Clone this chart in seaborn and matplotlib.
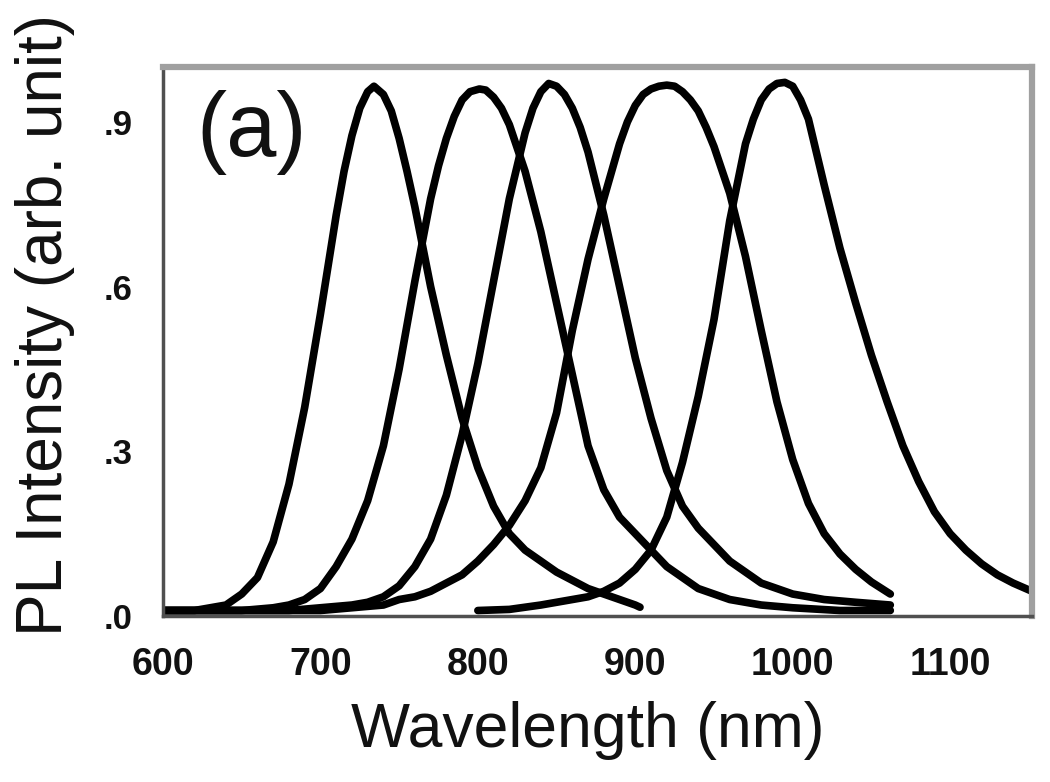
import pandas as pd
import matplotlib as mpl
import matplotlib.pyplot as plt
import seaborn as sns

# --- data (wavelength nm, PL intensity) ---
wl_1 = [600, 620, 640, 650, 660, 670, 680, 690, 700, 705, 710, 715, 720, 725, 730, 734,
        740, 745, 750, 755, 760, 770, 780, 790, 800, 810, 820, 830, 840, 850, 860, 870,
        880, 890, 900, 903]
pl_1 = [0.01, 0.01, 0.02, 0.04, 0.07, 0.135, 0.24, 0.38, 0.55, 0.64, 0.73, 0.81, 0.875, 0.925, 0.955, 0.965,
        0.95, 0.92, 0.87, 0.81, 0.745, 0.60, 0.475, 0.36, 0.27, 0.20, 0.15, 0.12, 0.10, 0.08, 0.065, 0.05,
        0.04, 0.03, 0.02, 0.016]

wl_2 = [600, 650, 670, 680, 690, 700, 710, 720, 730, 740, 750, 760, 770, 775, 780, 785,
        790, 795, 801, 805, 810, 815, 820, 830, 840, 850, 860, 870, 880, 890, 900, 910,
        920, 930, 940, 950, 960, 980, 1000, 1030, 1062]
pl_2 = [0.01, 0.01, 0.015, 0.02, 0.03, 0.05, 0.09, 0.14, 0.21, 0.31, 0.45, 0.61, 0.76, 0.82, 0.87, 0.91,
        0.94, 0.955, 0.96, 0.958, 0.945, 0.925, 0.895, 0.81, 0.70, 0.57, 0.44, 0.31, 0.23, 0.18, 0.15, 0.12,
        0.09, 0.07, 0.05, 0.04, 0.03, 0.02, 0.015, 0.01, 0.01]

wl_3 = [600, 680, 700, 720, 730, 740, 750, 760, 770, 780, 790, 800, 810, 820, 830, 835,
        840, 845, 850, 855, 860, 865, 870, 880, 890, 900, 910, 920, 930, 940, 950, 960,
        970, 980, 990, 1000, 1020, 1040, 1062]
pl_3 = [0.01, 0.01, 0.015, 0.02, 0.025, 0.035, 0.055, 0.09, 0.14, 0.22, 0.33, 0.46, 0.61, 0.76, 0.88, 0.925,
        0.955, 0.97, 0.965, 0.95, 0.925, 0.89, 0.845, 0.73, 0.60, 0.47, 0.36, 0.265, 0.20, 0.16, 0.13, 0.10,
        0.08, 0.06, 0.05, 0.04, 0.03, 0.025, 0.02]

wl_4 = [600, 700, 720, 740, 750, 760, 770, 780, 790, 800, 810, 820, 830, 840, 850, 860,
        870, 880, 890, 895, 900, 905, 910, 915, 920, 925, 930, 935, 940, 945, 950, 960,
        970, 980, 990, 1000, 1010, 1020, 1030, 1040, 1050, 1062]
pl_4 = [0.01, 0.01, 0.015, 0.02, 0.03, 0.035, 0.045, 0.06, 0.075, 0.10, 0.13, 0.165, 0.21, 0.27, 0.37, 0.52,
        0.65, 0.76, 0.86, 0.90, 0.93, 0.95, 0.96, 0.965, 0.967, 0.965, 0.955, 0.94, 0.92, 0.89, 0.855, 0.77,
        0.655, 0.52, 0.39, 0.285, 0.205, 0.15, 0.113, 0.085, 0.062, 0.04]

wl_5 = [800, 820, 840, 850, 860, 870, 880, 890, 900, 910, 920, 930, 940, 950, 960, 970,
        975, 980, 985, 990, 995, 1000, 1005, 1010, 1020, 1030, 1040, 1050, 1060, 1070, 1080, 1090,
        1100, 1110, 1120, 1130, 1140, 1152]
pl_5 = [0.01, 0.012, 0.02, 0.025, 0.03, 0.035, 0.045, 0.06, 0.085, 0.12, 0.18, 0.28, 0.40, 0.54, 0.72, 0.86,
        0.905, 0.94, 0.96, 0.97, 0.972, 0.965, 0.94, 0.905, 0.785, 0.67, 0.57, 0.475, 0.39, 0.31, 0.245, 0.19,
        0.15, 0.12, 0.095, 0.075, 0.06, 0.045]

x_ticks = [600, 700, 800, 900, 1000, 1100]
y_ticks = [0.0, 0.3, 0.6, 0.9]
y_tick_labels = ['.0', '.3', '.6', '.9']

frames = []
for name, wl, pl in [('s1', wl_1, pl_1), ('s2', wl_2, pl_2), ('s3', wl_3, pl_3),
                     ('s4', wl_4, pl_4), ('s5', wl_5, pl_5)]:
    frames.append(pd.DataFrame({'wavelength': wl, 'intensity': pl, 'sample': name}))
df = pd.concat(frames, ignore_index=True)

sns.set_theme(style='white')
mpl.rcParams.update({
    'font.family': ['Liberation Sans', 'DejaVu Sans'],
    'text.color': '#111111',
    'xtick.color': '#505050',
    'ytick.color': '#505050',
    'xtick.labelcolor': '#111111',
    'ytick.labelcolor': '#111111',
})

fig = plt.figure(figsize=(10.5, 7.82), dpi=100)
ax = fig.add_axes([163 / 1050, 1 - 616 / 782, (1032 - 163) / 1050, (616 - 67) / 782])

sns.lineplot(data=df, x='wavelength', y='intensity', hue='sample', units='sample',
             estimator=None, sort=False, palette=['black'] * 5, linewidth=5.5,
             solid_joinstyle='round', legend=False, ax=ax)

ax.set_xlim(600, 1152)
ax.set_ylim(0, 1.0)
ax.set_xticks(x_ticks)
ax.set_xticklabels([str(t) for t in x_ticks], fontsize=27, fontweight='bold')
ax.set_yticks(y_ticks)
ax.set_yticklabels(y_tick_labels, fontsize=25, fontweight='bold')
ax.tick_params(axis='both', direction='out', length=7, width=2, pad=15)
ax.set_xlabel('')
ax.set_ylabel('')

for side in ['top', 'right']:
    ax.spines[side].set_color('#a0a0a0')
    ax.spines[side].set_linewidth(4.5)
for side in ['left', 'bottom']:
    ax.spines[side].set_color('#505050')
    ax.spines[side].set_linewidth(2.5)

ax.text(0.038, 0.88, '(a)', transform=ax.transAxes, fontsize=65, ha='left', va='center')
fig.text(45 / 1050, 1 - 325 / 782, 'PL Intensity (arb. unit)', rotation=90,
         fontsize=46, ha='center', va='center')
fig.text(588 / 1050, 1 - 730 / 782, 'Wavelength (nm)', fontsize=45, ha='center', va='center')

fig.savefig('out.png', dpi=100, facecolor='white')
